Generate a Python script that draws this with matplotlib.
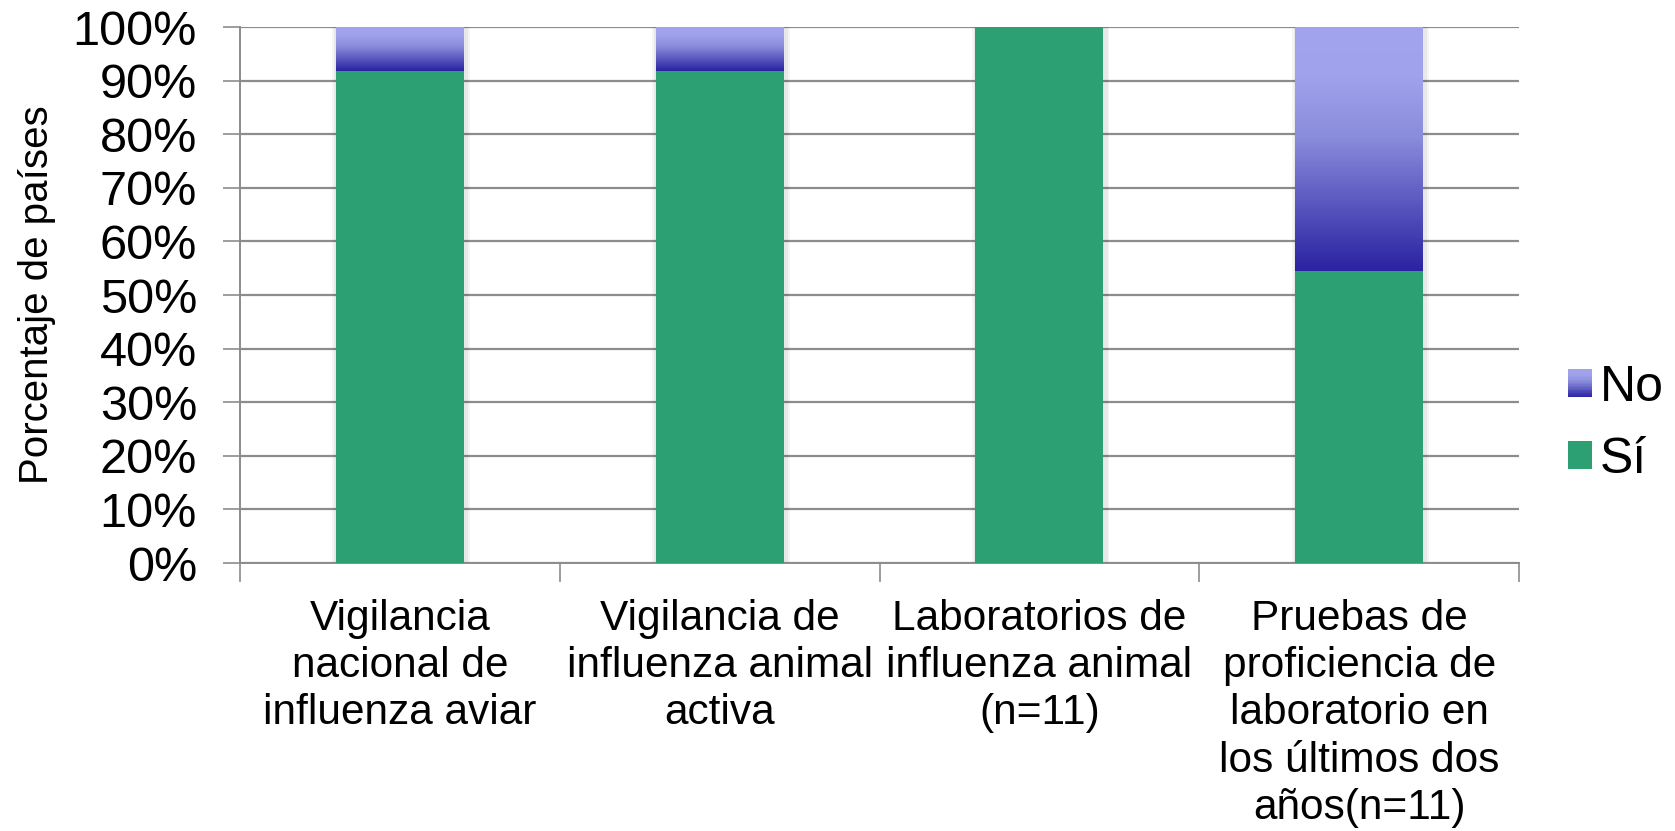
import numpy as np
import matplotlib
matplotlib.use("Agg")
import matplotlib.pyplot as plt
from matplotlib.colors import LinearSegmentedColormap
from matplotlib.patches import Rectangle
from matplotlib.legend_handler import HandlerBase

# Data (percent of countries)
categories = [
    "Vigilancia\nnacional de\ninfluenza aviar",
    "Vigilancia de\ninfluenza animal\nactiva",
    "Laboratorios de\ninfluenza animal\n(n=11)",
    "Pruebas de\nproficiencia de\nlaboratorio en\nlos últimos dos\naños(n=11)",
]
si_values = [91.7, 91.7, 100.0, 54.5]
no_values = [8.3, 8.3, 0.0, 45.5]
y_ticks = [0, 10, 20, 30, 40, 50, 60, 70, 80, 90, 100]

green = "#2ca073"
# No bars: light lavender on top, dark blue at the bottom
no_cmap = LinearSegmentedColormap.from_list(
    "no_grad", [(0.0, "#2a22a2"), (0.55, "#8a8cdc"), (0.8, "#a0a2ec"), (1.0, "#a2a4ee")]
)

plt.rcParams["font.family"] = ["Liberation Sans", "DejaVu Sans"]

fig = plt.figure(figsize=(16.75, 8.31), dpi=100)
fig.patch.set_facecolor("white")
ax = fig.add_axes([0.1433, 0.3225, 0.7636, 0.645])

x = np.arange(len(categories))
width = 0.4
totals = np.array(si_values) + np.array(no_values)

# faint soft shadow behind the bars
for extra, a in [(0.03, 0.04), (0.018, 0.05)]:
    ax.bar(x + 0.004, totals, width + extra, color="black", alpha=a, zorder=2.5)

# Sí bars
ax.bar(x, si_values, width, color=green, zorder=3)

# No bars with a vertical gradient clipped to each bar
grad = np.linspace(0, 1, 256).reshape(-1, 1)
no_bars = ax.bar(x, no_values, width, bottom=si_values, color="none", zorder=3)
for bar in no_bars:
    if bar.get_height() <= 0:
        continue
    x0, y0 = bar.get_x(), bar.get_y()
    w, h = bar.get_width(), bar.get_height()
    im = ax.imshow(grad, cmap=no_cmap, aspect="auto", origin="lower",
                   extent=[x0, x0 + w, y0, y0 + h], zorder=3)
    im.set_clip_path(bar)

ax.set_xlim(-0.5, len(categories) - 0.5)
ax.set_ylim(0, 100)

ax.set_yticks(y_ticks)
ax.set_yticklabels([f"{t}%" for t in y_ticks], fontsize=35)
ax.yaxis.grid(True, color="#8c8c8c", linewidth=1.6, zorder=0)
ax.set_axisbelow(True)

# category boundary ticks on x axis
ax.set_xticks(np.arange(len(categories) + 1) - 0.5)
ax.set_xticklabels([])
ax.set_xticks(x, minor=True)
ax.set_xticklabels(categories, minor=True, fontsize=30.5, linespacing=1.23)
ax.tick_params(axis="x", which="minor", length=0, pad=26)
ax.tick_params(axis="x", which="major", length=14, width=1.2, color="#8c8c8c")
ax.tick_params(axis="y", length=12, width=1.2, color="#8c8c8c", pad=19)

for side in ["top", "right"]:
    ax.spines[side].set_visible(False)
for side in ["left", "bottom"]:
    ax.spines[side].set_color("#8c8c8c")
    ax.spines[side].set_linewidth(1.4)

ax.set_ylabel("Porcentaje de países", fontsize=29, labelpad=12)


class GradientHandler(HandlerBase):
    def create_artists(self, legend, orig_handle, xdescent, ydescent, width, height, fontsize, trans):
        n = 20
        arts = []
        for i in range(n):
            c = no_cmap(1 - (i + 0.5) / n)
            arts.append(Rectangle((-xdescent, -ydescent + height * (1 - (i + 1) / n)),
                                  width, height / n + 0.3, facecolor=c, edgecolor="none",
                                  transform=trans))
        return arts


no_handle = Rectangle((0, 0), 1, 1)
si_handle = Rectangle((0, 0), 1, 1, facecolor=green)
fig.legend([no_handle, si_handle], ["No", "Sí"],
           handler_map={no_handle: GradientHandler()},
           loc="center left", bbox_to_anchor=(0.909, 0.49), frameon=False,
           fontsize=36, handlelength=0.49, handleheight=0.49, handletextpad=0.15,
           labelspacing=0.51)

fig.savefig("out.png", dpi=100)
